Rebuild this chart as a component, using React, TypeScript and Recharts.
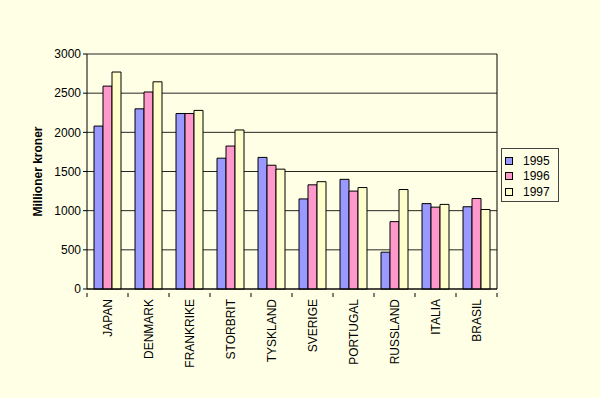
import React from 'react';
import { BarChart, Bar, XAxis, YAxis, CartesianGrid } from 'recharts';

const categories = ['JAPAN', 'DENMARK', 'FRANKRIKE', 'STORBRIT', 'TYSKLAND', 'SVERIGE', 'PORTUGAL', 'RUSSLAND', 'ITALIA', 'BRASIL'];
const v1995 = [2080, 2300, 2240, 1670, 1680, 1150, 1400, 470, 1090, 1050];
const v1996 = [2590, 2515, 2240, 1825, 1580, 1330, 1250, 860, 1045, 1155];
const v1997 = [2770, 2645, 2280, 2030, 1530, 1370, 1295, 1270, 1080, 1015];
const yTicks = [0, 500, 1000, 1500, 2000, 2500, 3000];
const seriesNames = ['1995', '1996', '1997'];
const colors = ['#9999FF', '#FF99CC', '#FFFFCC'];

const data = categories.map((c, i) => ({ name: c, '1995': v1995[i], '1996': v1996[i], '1997': v1997[i] }));

const FONT = '"Liberation Sans", Arial, sans-serif';
const BG = '#FFFFE6';

const XTick = (props: any) => {
  const { x, y, payload } = props;
  const half = 20.5;
  return (
    <g>
      <line x1={x - half} y1={y - 4} x2={x - half} y2={y} stroke="#000" />
      {payload.index === categories.length - 1 && (
        <line x1={x + half} y1={y - 4} x2={x + half} y2={y} stroke="#000" />
      )}
      <text
        x={x}
        y={y + 2}
        transform={`rotate(-90, ${x}, ${y + 2})`}
        textAnchor="end"
        dominantBaseline="central"
        fontSize={12}
        fontFamily={FONT}
        fill="#000"
      >
        {payload.value}
      </text>
    </g>
  );
};

const LegendBox = () => (
  <div
    style={{
      position: 'absolute',
      left: 501,
      top: 148,
      border: '1px solid #444',
      background: BG,
      width: 58,
      height: 54,
      boxSizing: 'border-box',
      paddingTop: 4,
      fontFamily: FONT,
      fontSize: 12,
    }}
  >
    {seriesNames.map((s, i) => (
      <div key={s} style={{ display: 'flex', alignItems: 'center', height: 15.5 }}>
        <span
          style={{
            display: 'inline-block',
            width: 6,
            height: 6,
            border: '1px solid #000',
            background: colors[i],
            marginLeft: 3,
            marginRight: 10,
          }}
        />
        <span>{s}</span>
      </div>
    ))}
  </div>
);

export default function App() {
  return (
    <div style={{ position: 'absolute', left: 0, top: 0, width: 600, height: 398, background: BG }}>
      <BarChart
        width={600}
        height={398}
        data={data}
        margin={{ top: 54, right: 102, bottom: 29, left: 0 }}
        barCategoryGap={7}
        barGap={0}
      >
        <CartesianGrid vertical={false} stroke="#000" strokeOpacity={0.85} />
        <XAxis
          dataKey="name"
          interval={0}
          height={80}
          tickLine={false}
          axisLine={{ stroke: '#000' }}
          tick={<XTick />}
        />
        <YAxis
          domain={[0, 3000]}
          ticks={yTicks}
          width={87}
          tickSize={4}
          tickLine={{ stroke: '#000' }}
          axisLine={{ stroke: '#000' }}
          tick={{ fontSize: 12, fontFamily: FONT, fill: '#000' }}
          label={{
            value: 'Millioner kroner',
            angle: -90,
            position: 'insideLeft',
            offset: 38,
            style: { textAnchor: 'middle', fontSize: 12, fontWeight: 'bold', fontFamily: FONT, fill: '#000' },
          }}
        />
        <YAxis
          yAxisId="r"
          orientation="right"
          domain={[0, 3000]}
          width={1}
          tick={false}
          tickLine={false}
          axisLine={{ stroke: '#000' }}
        />
        {seriesNames.map((s, i) => (
          <Bar key={s} dataKey={s} fill={colors[i]} stroke="#000" strokeWidth={1} isAnimationActive={false} />
        ))}
      </BarChart>
      <LegendBox />
    </div>
  );
}
